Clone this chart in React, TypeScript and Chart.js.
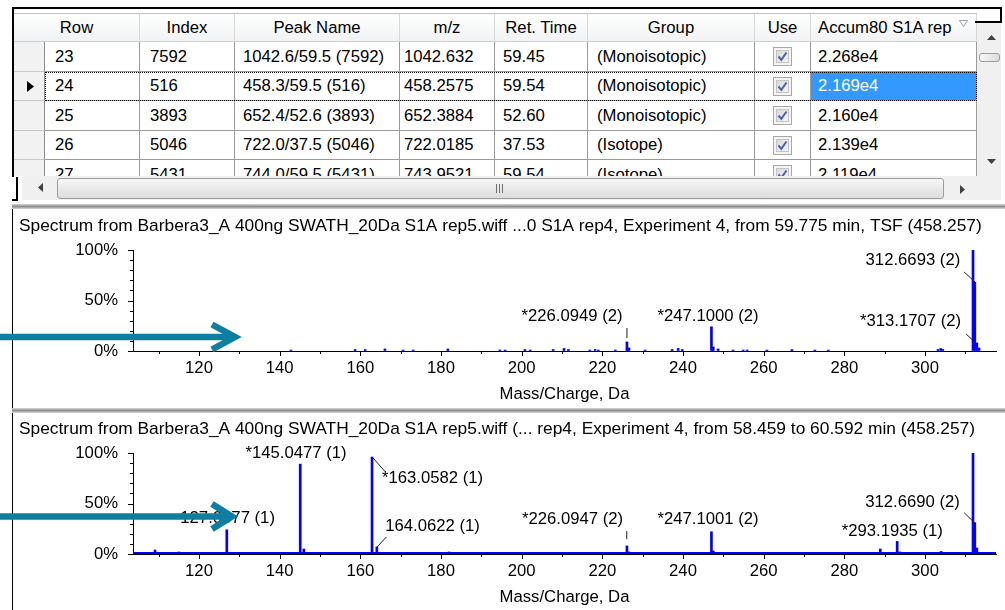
import React, { useEffect, useRef } from "react";
import { Chart, registerables } from "chart.js";

Chart.register(...registerables);

const FONT_FAMILY = '"Liberation Sans", Arial, sans-serif';
const FONT_SIZE = 16.7;
const TITLE_FONT_SIZE = 17.35;
const PEAK_COLOR = "#0000ff";
const ARROW_COLOR = "#0e7fa0";

// ---------------- peak table ----------------
const tableHeaders = ["Row", "Index", "Peak Name", "m/z", "Ret. Time", "Group", "Use", "Accum80 S1A rep"];
const rowNumbers = ["23", "24", "25", "26", "27"];
const peakIndex = ["7592", "516", "3893", "5046", "5431"];
const peakNames = ["1042.6/59.5 (7592)", "458.3/59.5 (516)", "652.4/52.6 (3893)", "722.0/37.5 (5046)", "744.0/59.5 (5431)"];
const peakMzText = ["1042.632", "458.2575", "652.3884", "722.0185", "743.9521"];
const retTimes = ["59.45", "59.54", "52.60", "37.53", "59.54"];
const peakGroups = ["(Monoisotopic)", "(Monoisotopic)", "(Monoisotopic)", "(Isotope)", "(Isotope)"];
const peakUse = [true, true, true, true, true];
const accumValues = ["2.268e4", "2.169e4", "2.160e4", "2.139e4", "2.119e4"];
const selectedRow = 1;

// ---------------- axes ----------------
const xMin = 103.64;
const xMax = 317.6;
const xTickValues = [110, 120, 130, 140, 150, 160, 170, 180, 190, 200, 210, 220, 230, 240, 250, 260, 270, 280, 290, 300, 310];
const xTickLabels = ["", "120", "", "140", "", "160", "", "180", "", "200", "", "220", "", "240", "", "260", "", "280", "", "300", ""];
const yTickValues = [0, 10, 20, 30, 40, 50, 60, 70, 80, 90, 100];
const yTickLabels = ["0%", "", "", "", "", "50%", "", "", "", "", "100%"];
const xAxisTitle = "Mass/Charge, Da";

// ---------------- spectrum 1 (TSF, single scan) ----------------
const spec1Title = "Spectrum from Barbera3_A 400ng SWATH_20Da S1A rep5.wiff ...0 S1A rep4, Experiment 4, from 59.775 min, TSF (458.257)";
const spec1Mz = [142.8, 158.7, 161.2, 166.1, 170.6, 173.1, 181.7, 194.6, 195.9, 200.8, 202.1, 207.8, 210.5, 211.6, 216.9, 218.2, 219.0, 223.2, 226.1, 226.6, 230.6, 237.3, 238.8, 239.8, 247.05, 247.5, 248.7, 252.4, 254.9, 255.9, 260.8, 267.0, 272.7, 276.0, 303.2, 303.9, 304.4, 311.9, 312.35, 312.85, 313.4];
const spec1Intensity = [1, 1.5, 1.5, 2, 1, 1, 2, 1, 1, 1.5, 1, 1.5, 2.5, 1.5, 1, 1.5, 1, 1, 9, 3, 1, 1.5, 2.5, 1.5, 24, 4, 2, 1, 1, 1, 1, 1.5, 1, 1, 1.5, 2.5, 1.5, 100, 68, 8, 3];
const spec1LabelText = ["312.6693 (2)", "*313.1707 (2)", "*226.0949 (2)", "*247.1000 (2)"];
const spec1LabelMz = [297.0, 296.4, 212.5, 246.2];
const spec1LabelPct = [90.1, 29.2, 34.7, 34.7];
const spec1Leaders = [
  [309.7, 78.2, 312.4, 68.3],
  [310.2, 16.8, 312.6, 7.9],
  [226.1, 22.8, 226.1, 12.9],
];

// ---------------- spectrum 2 (summed over RT range) ----------------
const spec2Title = "Spectrum from Barbera3_A 400ng SWATH_20Da S1A rep5.wiff (... rep4, Experiment 4, from 58.459 to 60.592 min (458.257)";
const spec2Mz = [109.1, 115.0, 126.9, 145.1, 146.0, 162.9, 164.1, 182.0, 210.3, 221.2, 226.1, 226.6, 247.05, 247.5, 288.9, 293.1, 293.8, 304.0, 311.9, 312.35, 312.85];
const spec2Intensity = [4, 2, 24, 89, 5, 96, 7, 2, 1, 1, 8, 2, 22, 3, 5, 12.5, 2, 2.5, 100, 31, 6];
const spec2BaselineMz = [103.64, 317.6];
const spec2BaselineLevel = [0.4, 0.4];
const spec2LabelText = ["*145.0477 (1)", "*163.0582 (1)", "127.0877 (1)", "164.0622 (1)", "*226.0947 (2)", "*247.1001 (2)", "*293.1935 (1)", "312.6690 (2)"];
const spec2LabelMz = [144.05, 177.9, 127.1, 177.9, 212.6, 246.2, 291.9, 296.9];
const spec2LabelPct = [99.5, 74.5, 34.8, 27.0, 33.8, 33.8, 22.0, 51.5];
const spec2Leaders = [
  [163.0, 95.8, 166.1, 81.7],
  [164.06, 6.6, 166.5, 17.0],
  [226.05, 22.8, 226.05, 14.7],
  [309.7, 40.9, 312.4, 30.4],
];

type SpectrumProps = {
  top: number;
  title: string;
  mz: number[];
  intensity: number[];
  labelText: string[];
  labelMz: number[];
  labelPct: number[];
  leaders: number[][];
  baselineMz?: number[];
  baselineLevel?: number[];
};

function SpectrumChart(p: SpectrumProps) {
  const ref = useRef<HTMLCanvasElement | null>(null);
  useEffect(() => {
    if (!ref.current) return;
    const font = { family: FONT_FAMILY, size: FONT_SIZE, weight: "normal" as const };
    const titleFont = { family: FONT_FAMILY, size: TITLE_FONT_SIZE, weight: "normal" as const };
    const titleLine = TITLE_FONT_SIZE * 1.2;
    const titleTop = 16 - titleLine / 2;
    const titleBottom = 40 - titleTop - titleLine;
    const datasets: any[] = [
      {
        type: "bar",
        data: p.mz.map((m, i) => ({ x: m, y: p.intensity[i] })),
        backgroundColor: PEAK_COLOR,
        borderWidth: 0,
        barThickness: 2,
        order: 1,
      },
    ];
    if (p.baselineMz && p.baselineLevel) {
      datasets.push({
        type: "line",
        data: p.baselineMz.map((m, i) => ({ x: m, y: p.baselineLevel![i] })),
        borderColor: PEAK_COLOR,
        borderWidth: 3,
        pointRadius: 0,
        order: 0,
      });
    }
    const decor = {
      id: "spectrumDecor",
      afterDraw(chart: any) {
        const { ctx, chartArea: ca } = chart;
        const xs = chart.scales.x;
        const ys = chart.scales.y;
        ctx.save();
        ctx.strokeStyle = "#000";
        ctx.lineWidth = 1;
        ctx.beginPath();
        xTickValues.forEach((v) => {
          const px = Math.round(xs.getPixelForValue(v)) + 0.5;
          const len = v % 20 === 0 ? 5 : 3;
          ctx.moveTo(px, ca.bottom);
          ctx.lineTo(px, ca.bottom + len);
        });
        yTickValues.forEach((v) => {
          const py = Math.round(ys.getPixelForValue(v)) + 0.5;
          const len = v % 50 === 0 ? 5 : 3;
          ctx.moveTo(ca.left - len, py);
          ctx.lineTo(ca.left, py);
        });
        ctx.stroke();
        ctx.strokeStyle = "#202020";
        ctx.beginPath();
        p.leaders.forEach(([m1, p1, m2, p2]) => {
          ctx.moveTo(xs.getPixelForValue(m1), ys.getPixelForValue(p1));
          ctx.lineTo(xs.getPixelForValue(m2), ys.getPixelForValue(p2));
        });
        ctx.stroke();
        ctx.font = `${FONT_SIZE}px ${FONT_FAMILY}`;
        ctx.fillStyle = "#000";
        ctx.textAlign = "center";
        ctx.textBaseline = "middle";
        p.labelText.forEach((t, i) => {
          ctx.fillText(t, xs.getPixelForValue(p.labelMz[i]), ys.getPixelForValue(p.labelPct[i]));
        });
        ctx.restore();
      },
    };
    const chart = new Chart(ref.current, {
      type: "bar",
      data: { datasets },
      options: {
        animation: false,
        responsive: false,
        devicePixelRatio: 1,
        layout: { padding: { left: 6, right: 9, top: 0, bottom: 0 } },
        plugins: {
          legend: { display: false },
          tooltip: { enabled: false },
          title: {
            display: true,
            text: p.title,
            align: "start",
            color: "#000",
            font: titleFont,
            padding: { top: titleTop, bottom: titleBottom },
          },
        },
        scales: {
          x: {
            type: "linear",
            min: xMin,
            max: xMax,
            offset: false,
            afterBuildTicks: (axis: any) => {
              axis.ticks = xTickValues.map((v) => ({ value: v }));
            },
            afterFit: (s: any) => {
              s.height = 56;
            },
            ticks: {
              autoSkip: false,
              maxRotation: 0,
              minRotation: 0,
              padding: 7,
              color: "#000",
              font,
              callback: (_v: any, i: number) => xTickLabels[i],
            },
            grid: { display: true, drawOnChartArea: false, drawTicks: false },
            border: { display: true, color: "#000", width: 1 },
            title: {
              display: true,
              text: xAxisTitle,
              color: "#000",
              font,
              padding: { top: 0, bottom: 2.1 },
            },
          },
          y: {
            type: "linear",
            min: 0,
            max: 100,
            afterBuildTicks: (axis: any) => {
              axis.ticks = yTickValues.map((v) => ({ value: v }));
            },
            afterFit: (s: any) => {
              s.width = 114;
            },
            ticks: {
              autoSkip: false,
              padding: 15,
              color: "#000",
              font,
              callback: (_v: any, i: number) => yTickLabels[i],
            },
            grid: { display: true, drawOnChartArea: false, drawTicks: false },
            border: { display: true, color: "#000", width: 1 },
          },
        },
      } as any,
      plugins: [decor],
    });
    return () => chart.destroy();
  }, []);
  return (
    <canvas
      ref={ref}
      width={992}
      height={197}
      style={{ position: "absolute", left: 13, top: p.top, width: 992, height: 197, display: "block" }}
    />
  );
}

// ---------------- table layout (styles) ----------------
const COLS = [45, 140, 235, 400, 495, 588, 755, 811, 977];
const HEAD_COLS = [14, 140, 235, 400, 495, 588, 755, 811, 977];
const ROW_TOP = [42, 72, 101, 131, 160];
const ROW_HT = [30, 29, 30, 29, 30];
const CELL_PAD = [10, 10, 8, 4, 8, 9, 0, 7];
const OX = 14;
const OY = 13;

function CheckBox() {
  return (
    <svg width="19" height="19" viewBox="0 0 19 19" style={{ display: "block" }}>
      <defs>
        <linearGradient id="cbg" x1="0" y1="0" x2="1" y2="1">
          <stop offset="0" stopColor="#d8d8d8" />
          <stop offset="1" stopColor="#f6f6f6" />
        </linearGradient>
      </defs>
      <rect x="0.5" y="0.5" width="18" height="18" fill="#f4f4f4" stroke="#a8a8a8" />
      <rect x="3.5" y="3.5" width="12" height="12" fill="url(#cbg)" stroke="#c4c4c4" />
      <path d="M5.5 9.5 L8.3 12.8 L13.5 5.5" fill="none" stroke="#4b63a6" strokeWidth="2" />
    </svg>
  );
}

function PeakTable() {
  const cellText: string[][] = rowNumbers.map((_, r) => [
    rowNumbers[r],
    peakIndex[r],
    peakNames[r],
    peakMzText[r],
    retTimes[r],
    peakGroups[r],
    "",
    accumValues[r],
  ]);
  return (
    <div
      style={{
        position: "absolute",
        left: OX,
        top: OY,
        width: 977 - OX,
        height: 176 - OY,
        overflow: "hidden",
        background: "#fff",
        fontSize: FONT_SIZE,
        color: "#000",
      }}
    >
      {tableHeaders.map((h, i) => (
        <div
          key={"h" + i}
          style={{
            position: "absolute",
            left: HEAD_COLS[i] - OX,
            top: 0,
            width: HEAD_COLS[i + 1] - HEAD_COLS[i],
            height: 29,
            boxSizing: "border-box",
            background: "linear-gradient(#ffffff, #f1f2f4)",
            borderRight: "1px solid #d8d8d8",
            borderBottom: "1px solid #d0d0d0",
            borderTop: "1px solid #c8c8c8",
            display: "flex",
            alignItems: "center",
            justifyContent: i === tableHeaders.length - 1 ? "flex-start" : "center",
            paddingLeft: i === tableHeaders.length - 1 ? 7 : 0,
            whiteSpace: "nowrap",
            overflow: "hidden",
          }}
        >
          {h}
        </div>
      ))}
      <svg width="10" height="8" style={{ position: "absolute", left: 959 - OX, top: 20 - OY }}>
        <path d="M0.5 0.5 L8.5 0.5 L4.5 6.5 Z" fill="none" stroke="#9aa0a8" />
      </svg>
      {rowNumbers.map((_, r) => (
        <div
          key={"rh" + r}
          style={{
            position: "absolute",
            left: 0,
            top: ROW_TOP[r] - OY,
            width: COLS[0] - OX,
            height: ROW_HT[r],
            boxSizing: "border-box",
            background: "#f2f2f2",
            borderBottom: "1px solid #c8c8c8",
            borderRight: "1px solid #8c8c8c",
          }}
        >
          {r === selectedRow && (
            <svg width="8" height="11" style={{ position: "absolute", left: 27 - OX, top: 9 }}>
              <path d="M0 0 L7 5.5 L0 11 Z" fill="#000" />
            </svg>
          )}
        </div>
      ))}
      {cellText.map((row, r) =>
        row.map((t, c) => {
          const sel = r === selectedRow && c === row.length - 1;
          return (
            <div
              key={"c" + r + "_" + c}
              style={{
                position: "absolute",
                left: COLS[c] - OX,
                top: ROW_TOP[r] - OY,
                width: COLS[c + 1] - COLS[c],
                height: ROW_HT[r],
                boxSizing: "border-box",
                background: sel ? "#3399ff" : "#fff",
                color: sel ? "#fff" : "#000",
                borderRight: "1px solid #9a9a9a",
                borderBottom: "1px solid #9a9a9a",
                display: "flex",
                alignItems: "center",
                justifyContent: c === 6 ? "center" : "flex-start",
                paddingLeft: CELL_PAD[c],
                whiteSpace: "nowrap",
                overflow: "hidden",
              }}
            >
              {c === 6 ? (peakUse[r] ? <CheckBox /> : null) : t}
            </div>
          );
        })
      )}
      <div
        style={{
          position: "absolute",
          left: COLS[0] - OX,
          top: ROW_TOP[selectedRow] - OY,
          width: COLS[COLS.length - 1] - COLS[0],
          height: ROW_HT[selectedRow],
          boxSizing: "border-box",
          border: "1px dotted #000",
        }}
      />
    </div>
  );
}

function Scrollbars() {
  const thumb = {
    position: "absolute" as const,
    boxSizing: "border-box" as const,
    border: "1px solid #9c9c9c",
    borderRadius: 3,
    background: "linear-gradient(#f7f7f7, #dcdcdc)",
  };
  return (
    <>
      {/* vertical */}
      <div style={{ position: "absolute", left: 977, top: 23, width: 24, height: 153, background: "#f0f0f0" }} />
      <svg width="10" height="6" style={{ position: "absolute", left: 987, top: 35 }}>
        <path d="M0 5 L4.5 0 L9 5 Z" fill="#404040" />
      </svg>
      <div style={{ ...thumb, left: 979, top: 53, width: 21, height: 9, background: "linear-gradient(90deg,#f7f7f7,#dcdcdc)" }} />
      <svg width="10" height="6" style={{ position: "absolute", left: 987, top: 159 }}>
        <path d="M0 0 L9 0 L4.5 5 Z" fill="#404040" />
      </svg>
      {/* horizontal */}
      <div style={{ position: "absolute", left: 22, top: 176, width: 955, height: 24, background: "#f0f0f0" }} />
      <div style={{ position: "absolute", left: 977, top: 176, width: 24, height: 24, background: "#f0f0f0" }} />
      <svg width="6" height="10" style={{ position: "absolute", left: 38, top: 183 }}>
        <path d="M5 0 L0 4.5 L5 9 Z" fill="#404040" />
      </svg>
      <div style={{ ...thumb, left: 57, top: 178, width: 887, height: 21 }} />
      <svg width="8" height="9" style={{ position: "absolute", left: 496, top: 184 }}>
        <path d="M0.5 0 V9 M3.5 0 V9 M6.5 0 V9" stroke="#707070" strokeWidth="1" />
      </svg>
      <svg width="6" height="10" style={{ position: "absolute", left: 960, top: 185 }}>
        <path d="M0 0 L5 4.5 L0 9 Z" fill="#404040" />
      </svg>
    </>
  );
}

function Frame() {
  const black = "#000";
  return (
    <>
      <div style={{ position: "absolute", left: 12, top: 7, width: 989, height: 2, background: black }} />
      <div style={{ position: "absolute", left: 1000, top: 7, width: 2, height: 16, background: black }} />
      <div style={{ position: "absolute", left: 975, top: 21, width: 27, height: 2, background: black }} />
      <div style={{ position: "absolute", left: 12, top: 7, width: 2, height: 170, background: black }} />
      <div style={{ position: "absolute", left: 16, top: 177, width: 2, height: 24, background: black }} />
      <div style={{ position: "absolute", left: 12, top: 199, width: 6, height: 2, background: black }} />
      <div style={{ position: "absolute", left: 14, top: 13, width: 963, height: 1, background: "#c0c0c0" }} />
      {/* splitters */}
      <div style={{ position: "absolute", left: 12, top: 204, width: 993, height: 5, background: "linear-gradient(#d8d8d8, #8e8e8e 50%, #d8d8d8)" }} />
      <div style={{ position: "absolute", left: 12, top: 408, width: 993, height: 5, background: "linear-gradient(#d8d8d8, #8e8e8e 50%, #d8d8d8)" }} />
      {/* left border of spectrum panes */}
      <div style={{ position: "absolute", left: 12, top: 209, width: 1, height: 199, background: black }} />
      <div style={{ position: "absolute", left: 12, top: 413, width: 1, height: 197, background: black }} />
    </>
  );
}

function Arrows() {
  return (
    <svg
      width="1005"
      height="610"
      style={{ position: "absolute", left: 0, top: 0, pointerEvents: "none" }}
    >
      <g fill="none" stroke={ARROW_COLOR} strokeWidth="6.5">
        <path d="M0 337 H233" />
        <path d="M212 324.5 L235 337 L212 349.5" strokeLinejoin="miter" />
        <path d="M0 516.5 H230" />
        <path d="M212 504 L232 516.5 L212 529" strokeLinejoin="miter" />
      </g>
    </svg>
  );
}

export default function App() {
  return (
    <div
      style={{
        position: "fixed",
        left: 0,
        top: 0,
        width: 1005,
        height: 610,
        background: "#fff",
        overflow: "hidden",
        fontFamily: FONT_FAMILY,
      }}
    >
      <PeakTable />
      <Scrollbars />
      <Frame />
      <SpectrumChart
        top={210}
        title={spec1Title}
        mz={spec1Mz}
        intensity={spec1Intensity}
        labelText={spec1LabelText}
        labelMz={spec1LabelMz}
        labelPct={spec1LabelPct}
        leaders={spec1Leaders}
      />
      <SpectrumChart
        top={413}
        title={spec2Title}
        mz={spec2Mz}
        intensity={spec2Intensity}
        labelText={spec2LabelText}
        labelMz={spec2LabelMz}
        labelPct={spec2LabelPct}
        leaders={spec2Leaders}
        baselineMz={spec2BaselineMz}
        baselineLevel={spec2BaselineLevel}
      />
      <Arrows />
    </div>
  );
}
